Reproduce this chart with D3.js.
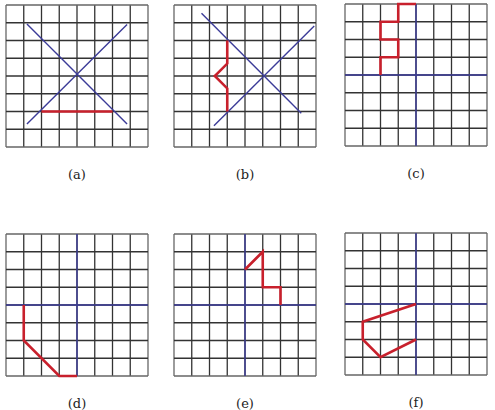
<!DOCTYPE html>
<html><head><meta charset="utf-8">
<script src="https://cdn.jsdelivr.net/npm/d3@7"></script>
<style>body{margin:0;background:#fff}</style></head>
<body><svg id="chart" width="495" height="410"></svg>
<script>
// grid units 0..8, y grows downward
const labels = ['(a)', '(b)', '(c)', '(d)', '(e)', '(f)'];
const origins = [[6, 5], [174, 5], [345, 4], [6, 234], [174, 234], [345, 233]];
const blueLines = [
  [[[1.18, 1.07], [6.82, 6.7]], [[6.82, 1.1], [1.18, 6.7]]],
  [[[1.55, 0.47], [7.17, 6.1]], [[7.9, 1.18], [2.25, 6.8]]],
  [[[4, 0], [4, 8]], [[0, 4], [8, 4]]],
  [[[4, 0], [4, 8]], [[0, 4], [8, 4]]],
  [[[4, 0], [4, 8]], [[0, 4], [8, 4]]],
  [[[4, 0], [4, 8]], [[0, 4], [8, 4]]]
];
const redPaths = [
  [[2, 6], [6, 6]],
  [[3, 2], [3, 3.3], [2.3, 4], [3, 4.7], [3, 6]],
  [[2, 4], [2, 3], [3, 3], [3, 2], [2, 2], [2, 1], [3, 1], [3, 0], [4, 0]],
  [[1, 4], [1, 6], [3, 8], [4, 8]],
  [[4, 2], [5, 1], [5, 3], [6, 3], [6, 4]],
  [[4, 4], [1, 5], [1, 6], [2, 7], [4, 6]]
];
const size = 142;
const svg = d3.select('#chart');

labels.forEach((lab, i) => {
  const [ox, oy] = origins[i];
  const x = d3.scaleLinear().domain([0, 8]).range([ox, ox + size]);
  const y = d3.scaleLinear().domain([0, 8]).range([oy, oy + size]);
  const g = svg.append('g');
  const ticks = d3.range(0, 9);
  g.selectAll('.v').data(ticks).join('line')
    .attr('x1', d => x(d)).attr('x2', d => x(d)).attr('y1', y(0)).attr('y2', y(8))
    .attr('stroke', d => (d === 0 || d === 8) ? '#666' : '#333').attr('stroke-width', 1.3);
  g.selectAll('.h').data(ticks).join('line')
    .attr('y1', d => y(d)).attr('y2', d => y(d)).attr('x1', x(0)).attr('x2', x(8))
    .attr('stroke', d => (d === 0 || d === 8) ? '#666' : '#333').attr('stroke-width', 1.3);
  const line = d3.line().x(d => x(d[0])).y(d => y(d[1]));
  blueLines[i].forEach(l => {
    g.append('path').attr('d', line(l)).attr('fill', 'none')
      .attr('stroke', '#3b3b98').attr('stroke-width', 1.4);
  });
  g.append('path').attr('d', line(redPaths[i])).attr('fill', 'none')
    .attr('stroke', '#c8202c').attr('stroke-width', 2.6).attr('stroke-linejoin', 'miter');
  g.append('text').attr('x', x(4)).attr('y', oy + 174)
    .attr('text-anchor', 'middle').attr('font-family', 'DejaVu Serif, serif')
    .attr('font-size', 13).attr('fill', '#222').text(lab);
});
</script></body></html>
